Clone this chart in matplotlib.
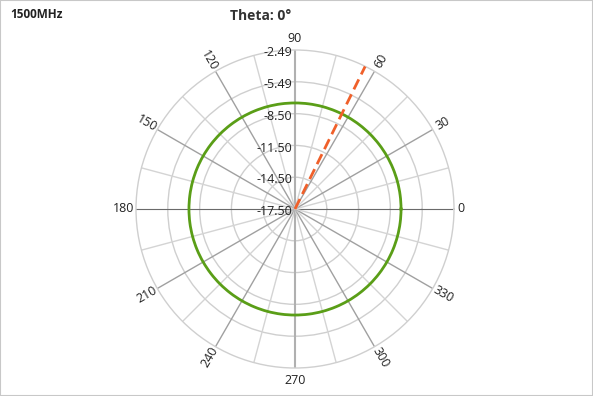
import numpy as np
import matplotlib.pyplot as plt
from matplotlib.patches import Rectangle

plt.rcParams['font.family'] = ['Open Sans', 'DejaVu Sans']

# data
angles_deg = [0, 15, 30, 45, 60, 75, 90, 105, 120, 135, 150, 165, 180,
              195, 210, 225, 240, 255, 270, 285, 300, 315, 330, 345, 360]
gain = [-7.49, -7.49, -7.49, -7.49, -7.49, -7.49, -7.49, -7.49, -7.49,
        -7.49, -7.49, -7.49, -7.49, -7.49, -7.49, -7.49, -7.49, -7.49,
        -7.49, -7.49, -7.49, -7.49, -7.49, -7.49, -7.49]
beam_angle = [63.8, 63.8]
beam_r = [-17.50, -2.49]
r_ticks = [-17.50, -14.50, -11.50, -8.50, -5.49, -2.49]
r_labels = ["-17.50", "-14.50", "-11.50", "-8.50", "-5.49", "-2.49"]
theta_ticks = [0, 30, 60, 90, 120, 150, 180, 210, 240, 270, 300, 330]

rmin, rmax = -17.50, -2.49
R_PX = 159.0

fig = plt.figure(figsize=(5.93, 3.96), dpi=100)
ax = fig.add_axes([(295 - R_PX) / 593, (396 - 209 - R_PX) / 396,
                   2 * R_PX / 593, 2 * R_PX / 396], projection='polar')
ax.set_ylim(rmin, rmax)
ax.set_xticks([])
ax.set_yticks([])
ax.grid(False)
ax.spines['polar'].set_color('#cfcfcf')
ax.spines['polar'].set_linewidth(1.0)

# rings (arcs between two points, curved by the polar transform)
for rv in r_ticks[1:-1]:
    ring, = ax.plot([0, np.pi, 2 * np.pi], [rv, rv, rv],
                    color='#cfcfcf', lw=1.0, zorder=1)
    ring.get_path()._interpolation_steps = 180

# spokes
for a in range(0, 360, 15):
    th = np.deg2rad(a)
    if a in (0, 180):
        c, lw = '#6a6a6a', 0.8
    elif a in (90, 270):
        c, lw = '#b0b0b0', 1.5
    elif a % 30 == 0:
        c, lw = '#a0a0a0', 1.0
    else:
        c, lw = '#d4d4d4', 1.0
    ax.plot([th, th], [rmin, rmax], color=c, lw=lw, zorder=1)

# series
pattern, = ax.plot(np.deg2rad(angles_deg), gain, color='#5a9e17', lw=2.0,
                   zorder=3)
pattern.get_path()._interpolation_steps = 20
ax.plot(np.deg2rad(beam_angle), beam_r, color='#f0602a', lw=2.0,
        ls=(0, (4, 2)), zorder=4)

# angular labels
def px_to_r(px):
    return rmin + px / R_PX * (rmax - rmin)

for a in theta_ticks:
    if a % 90 == 0:
        rot = 0
    else:
        rot = a % 180
        if rot > 90:
            rot -= 180
    rp = 166 if a == 0 else 171
    ax.text(np.deg2rad(a), px_to_r(rp), str(a), rotation=rot,
            rotation_mode='anchor', ha='center', va='center',
            fontsize=9, color='#222222', clip_on=False)

# radial labels along 90 deg
for rv, lab in zip(r_ticks, r_labels):
    ax.annotate(lab, xy=(np.pi / 2, rv), xytext=(-2, -2),
                textcoords='offset points', ha='right', va='center',
                fontsize=9, color='#222222', annotation_clip=False)

fig.text(261 / 593, 1 - 16 / 396, "Theta: 0°", ha='center', va='center',
         fontsize=10, fontweight='bold', color='#333333')
fig.text(10 / 593, 1 - 15 / 396, "1500MHz", ha='left', va='center',
         fontsize=8.5, fontweight='bold', color='#222222')

fig.patches.append(Rectangle((0, 0), 1, 1, transform=fig.transFigure,
                             fill=False, edgecolor='#c8c8c8', lw=1.5))

fig.savefig('out.png', dpi=100)
